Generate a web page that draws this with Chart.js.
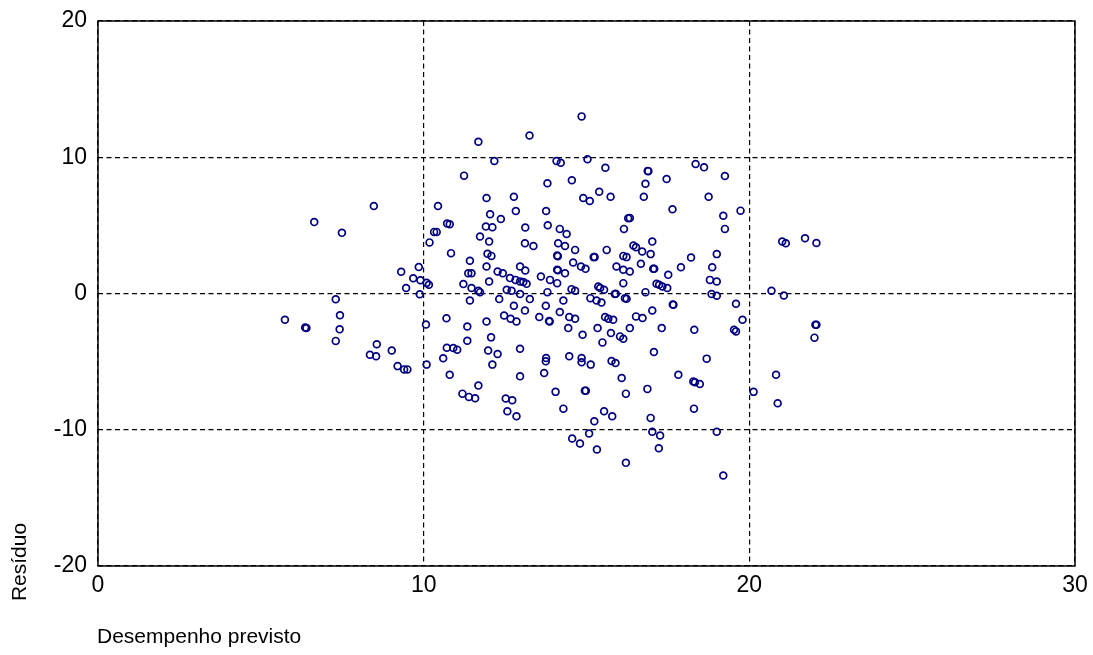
<!DOCTYPE html>
<html>
<head>
<meta charset="utf-8">
<script src="https://cdn.jsdelivr.net/npm/chart.js@4"></script>
<style>
  html, body { margin: 0; padding: 0; background: #fff; }
  #wrap { width: 1093px; height: 655px; position: relative; }
</style>
</head>
<body>
<div id="wrap"><canvas id="grafico" width="1093" height="655"></canvas></div>
<script>
// desempenho previsto (x) e resíduo (y)
const previsto = [
  5.74, 6.36, 6.40, 6.64, 7.30, 7.43, 7.42, 7.30, 7.49, 8.47,
  8.56, 8.35, 8.54, 9.02, 9.20, 9.40, 9.50, 9.31, 9.46, 9.68,
  9.85, 9.90, 9.88, 10.09, 10.16, 10.07, 10.09, 10.18, 10.32, 10.40,
  10.44, 10.72, 10.80, 10.84, 10.70, 10.71, 10.60, 10.80, 10.91, 11.03,
  11.24, 11.68, 11.73, 12.01, 11.96, 12.08, 11.42, 11.93, 11.37, 11.47,
  12.27, 12.43, 12.01, 11.22, 11.47, 11.68, 11.73, 11.42, 11.93, 11.34,
  11.34, 11.98, 12.27, 12.11, 11.68, 11.19, 11.39, 11.58, 12.17, 11.93,
  12.04, 12.37, 11.91, 12.11, 12.77, 12.83, 12.55, 12.70, 12.32, 12.65,
  12.82, 12.96, 13.06, 13.16, 12.96, 13.12, 12.96, 13.26, 12.77, 13.11,
  12.47, 12.67, 12.85, 12.07, 12.96, 12.96, 12.52, 12.72, 12.57, 12.85,
  13.25, 13.12, 13.11, 13.37, 13.60, 13.55, 13.76, 13.81, 13.80, 14.08,
  14.21, 14.55, 14.18, 14.39, 14.13, 14.34, 14.10, 14.12, 14.10, 14.12,
  14.34, 13.88, 14.10, 13.80, 13.75, 14.18, 13.85, 13.87, 14.29, 13.76,
  13.75, 13.70, 14.05, 14.29, 14.56, 14.80, 14.65, 14.59, 14.83, 14.97,
  14.54, 14.65, 14.47, 14.65, 14.44, 14.88, 14.47, 14.85, 14.85, 15.13,
  14.95, 14.98, 14.85, 15.03, 14.90, 15.10, 15.39, 15.58, 15.74, 15.62,
  15.22, 15.25, 15.36, 15.42, 15.54, 15.12, 15.31, 15.46, 15.34, 15.57,
  15.67, 15.82, 15.75, 15.49, 15.77, 15.89, 15.54, 15.79, 15.24, 15.08,
  15.32, 15.92, 15.87, 15.90, 16.15, 16.28, 16.33, 16.13, 16.23, 16.13,
  16.33, 16.13, 16.18, 16.23, 16.03, 16.13, 16.33, 16.08, 16.21, 16.21,
  16.44, 16.52, 16.71, 16.97, 16.67, 16.81, 16.52, 16.72, 16.76, 16.81,
  16.88, 16.90, 17.02, 17.05, 17.08, 17.15, 17.23, 17.33, 17.48, 17.51,
  17.02, 17.31, 17.07, 16.87, 16.97, 17.02, 17.26, 17.22, 17.46, 17.64,
  17.90, 17.65, 17.67, 17.82, 18.21, 18.35, 18.61, 18.75, 18.31, 18.69,
  18.28, 18.33, 18.48, 18.30, 18.86, 18.79, 19.00, 18.84, 19.00, 19.00,
  19.25, 19.20, 19.25, 19.73, 19.59, 19.79, 19.53, 19.59, 19.00, 19.20,
  20.13, 20.68, 21.06, 21.01, 21.12, 21.71, 20.82, 20.87, 22.06, 22.03,
  22.06, 22.00
];
const residuo = [
  -1.93, -2.50, -2.54, 5.24, -0.42, -1.60, -2.63, -3.48, 4.45, 6.42,
  -3.72, -4.50, -4.60, -4.18, -5.33, -5.57, -5.57, 1.60, 0.40, 1.12,
  1.95, 0.97, -0.06, 0.78, 0.64, -2.27, -5.22, 3.75, 4.52, 4.52,
  6.42, 5.14, 5.08, 2.96, -1.82, -3.98, -4.75, -5.96, -4.00, -4.12,
  8.65, 11.14, 4.18, 3.81, 2.91, 2.76, 2.40, 1.98, 1.49, 1.49,
  1.61, 1.49, 0.88, 0.69, 0.40, 0.20, 0.10, -0.51, -2.05, -2.42,
  -3.47, -4.18, -4.44, -5.22, -6.76, -7.35, -7.59, -7.69, 9.72, 7.01,
  5.82, 5.47, 4.91, 4.86, 7.10, 6.06, 0.27, 0.20, -0.41, 1.13,
  1.00, 0.88, 0.84, 0.71, 1.98, 1.69, -0.04, -0.41, -0.90, -1.25,
  -1.61, -1.85, -2.05, -3.22, -4.05, -6.08, -7.71, -7.84, -8.64, -9.01,
  11.60, 4.84, 3.69, 3.49, 1.25, -1.73, 6.06, 5.01, 8.09, 9.72,
  9.60, 8.31, 4.74, 4.37, 3.69, 3.49, 2.78, 2.74, 1.74, 1.70,
  1.49, 1.00, 0.76, 0.10, -0.90, -1.36, -2.02, -2.06, -0.51, -4.73,
  -4.98, -5.83, -7.22, -8.45, -10.64, -11.01, 3.20, 2.27, 1.98, 1.81,
  0.32, 0.20, -1.73, -1.85, -2.54, -3.03, -4.61, -4.73, -5.05, -5.22,
  -7.13, -7.13, 13.00, 9.85, 7.01, 6.79, 7.47, 9.23, 7.10, 3.20,
  2.67, 2.67, 0.51, 0.40, 0.27, -0.34, -0.51, -0.66, -2.54, -1.73,
  -1.85, -1.93, -2.90, -3.59, -4.95, -5.10, -8.64, -9.01, -9.38, -10.28,
  -11.45, 1.98, -0.04, -0.02, 4.74, 5.52, 5.55, 2.76, 2.67, 1.74,
  1.61, 0.76, -0.34, -0.39, -3.15, -3.32, -2.54, -6.20, -7.35, -12.43,
  3.52, 3.40, 3.08, 2.89, 2.18, 0.10, -1.68, -1.80, 7.10, 8.06,
  9.00, 8.98, 3.81, 1.81, 1.81, 0.71, 0.64, 0.51, 0.40, 1.37,
  -1.25, -2.54, -4.29, -7.00, -9.13, -10.15, -10.42, -11.36, 8.40, 6.18,
  1.93, -0.81, -0.83, -5.96, 2.64, 9.50, 9.26, 7.10, -2.66, -4.78,
  -6.45, -6.52, -6.64, -8.45, 1.93, 1.00, 0.88, -0.04, -0.17, 2.89,
  8.62, 5.71, 4.74, 6.08, -0.75, -1.93, -2.66, -2.78, -10.15, -13.36,
  -7.22, 0.20, -0.15, 3.81, 3.69, 4.06, -5.96, -8.06, 3.71, -2.30,
  -2.30, -3.24
];
const ticksX = [0, 10, 20, 30];
const ticksY = [-20, -10, 0, 10, 20];

const fonte = 'Arial, "Liberation Sans", sans-serif';

// moldura sólida + títulos dos eixos
const molduraPlugin = {
  id: 'moldura',
  afterDraw(chart) {
    const { ctx, chartArea: a } = chart;
    ctx.save();
    ctx.strokeStyle = '#000';
    ctx.lineWidth = 1.5;
    ctx.setLineDash([]);
    ctx.strokeRect(a.left, a.top, a.right - a.left, a.bottom - a.top);

    ctx.fillStyle = '#000';
    ctx.font = '21px ' + fonte;
    ctx.textBaseline = 'middle';
    ctx.textAlign = 'left';
    ctx.fillText('Desempenho previsto', 97, 637);

    ctx.translate(20, 562);
    ctx.rotate(-Math.PI / 2);
    ctx.textAlign = 'center';
    ctx.fillText('Resíduo', 0, 0);
    ctx.restore();
  }
};

const ctx = document.getElementById('grafico').getContext('2d');
new Chart(ctx, {
  type: 'scatter',
  data: {
    datasets: [{
      data: previsto.map((x, i) => ({ x: x, y: residuo[i] })),
      pointStyle: 'circle',
      pointRadius: 3.4,
      borderWidth: 1.7,
      borderColor: '#000080',
      backgroundColor: 'rgba(0,0,0,0)'
    }]
  },
  options: {
    responsive: false,
    animation: false,
    layout: { padding: { top: 21, right: 18, left: 0, bottom: 0 } },
    plugins: { legend: { display: false }, tooltip: { enabled: false } },
    scales: {
      x: {
        type: 'linear',
        min: 0, max: 30,
        afterBuildTicks: s => { s.ticks = ticksX.map(v => ({ value: v })); },
        afterFit: s => { s.height = 89; s.paddingLeft = 0; s.paddingRight = 0; },
        grid: { color: '#000', lineWidth: 1.2, drawTicks: false },
        border: { display: false, dash: [5, 3.5] },
        ticks: { color: '#000', padding: 8, font: { size: 23, family: fonte, lineHeight: 1 } }
      },
      y: {
        type: 'linear',
        min: -20, max: 20,
        afterBuildTicks: s => { s.ticks = ticksY.map(v => ({ value: v })); },
        afterFit: s => { s.width = 98; s.paddingTop = 0; s.paddingBottom = 0; },
        grid: { color: '#000', lineWidth: 1.2, drawTicks: false },
        border: { display: false, dash: [5, 3.5] },
        ticks: { color: '#000', padding: 11, font: { size: 23, family: fonte, lineHeight: 1 } }
      }
    }
  },
  plugins: [molduraPlugin]
});
</script>
</body>
</html>
